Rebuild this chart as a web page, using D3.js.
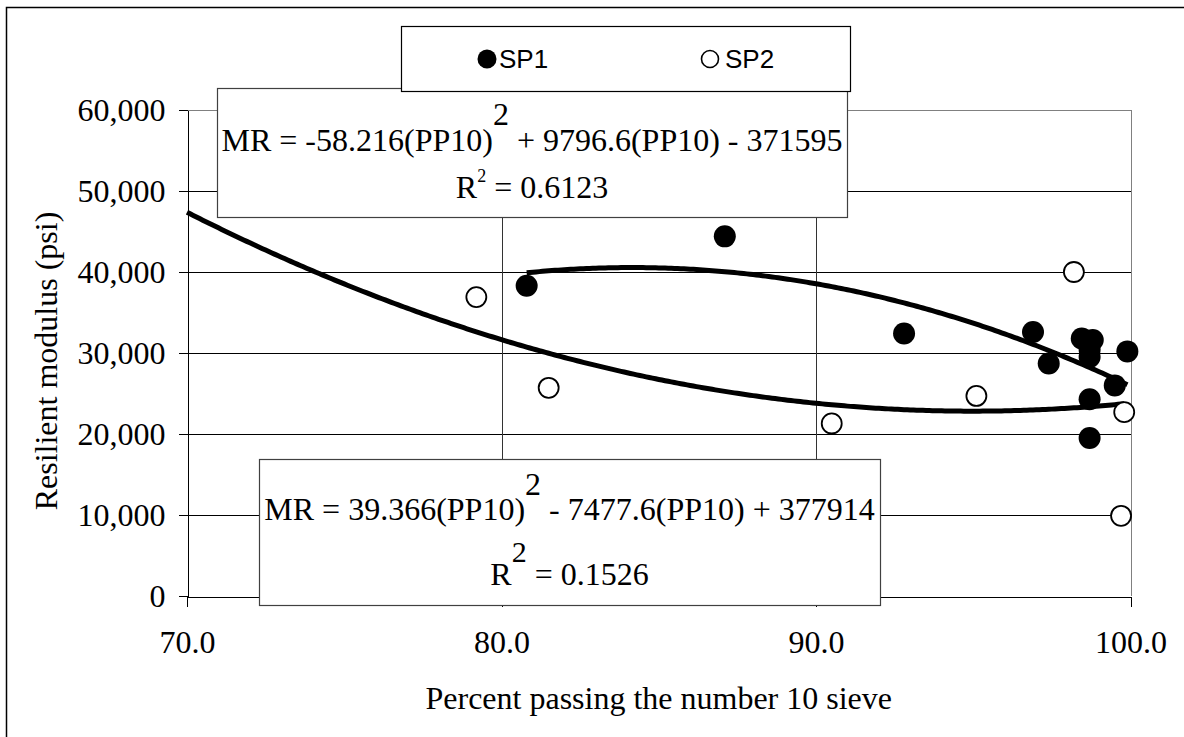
<!DOCTYPE html>
<html>
<head>
<meta charset="utf-8">
<script src="https://cdn.jsdelivr.net/npm/d3@7"></script>
<style>
  body { margin: 0; background: #fff; }
  svg { display: block; }
</style>
</head>
<body>
<div id="chart"></div>
<script>
// data
var sp1X = [80.8, 87.1, 92.8, 96.9, 97.4, 98.45, 98.8, 98.7, 98.7, 99.9, 99.5, 98.7, 98.7];
var sp1Y = [38300, 44400, 32400, 32600, 28700, 31800, 31600, 30400, 29500, 30200, 26000, 24300, 19500];
var sp2X = [79.2, 81.5, 90.5, 95.1, 98.2, 99.8, 99.7];
var sp2Y = [36900, 25700, 21300, 24700, 40000, 22700, 9900];

var xTicks = [70, 80, 90, 100];
var yTicks = [0, 10000, 20000, 30000, 40000, 50000, 60000];

// trendline coefficients (a, b, c) as printed in the boxes, and x extent drawn
var sp1Fit = [-58.216, 9796.6, -371595];
var sp1Range = [80.8, 99.9];
var sp2Fit = [39.366, -7477.6, 377914];
var sp2Range = [70, 99.8];

var svgWidth = 1184;
var svgHeight = 737;

var svg = d3.select("#chart")
  .append("svg")
  .attr("width", svgWidth)
  .attr("height", svgHeight);

var serif = "'Liberation Serif', 'Times New Roman', serif";
var sans = "'Liberation Sans', Arial, sans-serif";
var fontSize = 32;

// outer frame (cut off on the right and bottom)
svg.append("rect")
  .attr("x", 6.5).attr("y", 7.5)
  .attr("width", 1200).attr("height", 760)
  .attr("fill", "#fff")
  .attr("stroke", "#000")
  .attr("stroke-width", 1.5);

var x = d3.scaleLinear().domain([70, 100]).range([187, 1130.5]);
var y = d3.scaleLinear().domain([0, 60000]).range([596, 110]);

// gridlines
var grid = svg.append("g").attr("shape-rendering", "crispEdges");
grid.selectAll("line.h")
  .data(yTicks.filter(d => d > 0 && d < 60000))
  .enter().append("line")
  .attr("x1", x(70)).attr("x2", x(100))
  .attr("y1", d => Math.round(y(d)) + 0.5)
  .attr("y2", d => Math.round(y(d)) + 0.5)
  .attr("stroke", "#000");
grid.selectAll("line.v")
  .data(xTicks.filter(d => d > 70 && d < 100))
  .enter().append("line")
  .attr("x1", d => Math.round(x(d)) + 0.5)
  .attr("x2", d => Math.round(x(d)) + 0.5)
  .attr("y1", y(60000)).attr("y2", y(0))
  .attr("stroke", "#333");
// plot area border top / right
grid.append("path")
  .attr("d", `M${x(70)},${Math.round(y(60000)) + 0.5}H${Math.round(x(100)) + 0.5}V${y(0)}`)
  .attr("fill", "none")
  .attr("stroke", "#808080");

// axes
var leftAxis = d3.axisLeft(y)
  .tickValues(yTicks)
  .tickFormat(d3.format(","))
  .tickSize(9)
  .tickSizeOuter(0)
  .tickPadding(13);
var bottomAxis = d3.axisBottom(x)
  .tickValues(xTicks)
  .tickFormat(d3.format(".1f"))
  .tickSize(10)
  .tickSizeOuter(0)
  .tickPadding(24);

var yAxis = svg.append("g")
  .attr("transform", `translate(${Math.round(x(70)) + 0.5},0)`)
  .call(leftAxis);
var xAxis = svg.append("g")
  .attr("transform", `translate(0,${Math.round(y(0)) + 0.5})`)
  .call(bottomAxis);

[yAxis, xAxis].forEach(function(a) {
  a.attr("font-family", serif).attr("font-size", fontSize);
  a.selectAll("text").attr("fill", "#000");
  a.selectAll("line, path").attr("stroke", "#000").attr("shape-rendering", "crispEdges");
});
yAxis.selectAll("text").attr("dy", "0.34em");

// axis titles
svg.append("text")
  .attr("x", x(85))
  .attr("y", 709)
  .attr("text-anchor", "middle")
  .attr("font-family", serif)
  .attr("font-size", fontSize)
  .text("Percent passing the number 10 sieve");

svg.append("text")
  .attr("transform", "translate(57,361) rotate(-90)")
  .attr("text-anchor", "middle")
  .attr("font-family", serif)
  .attr("font-size", fontSize)
  .text("Resilient modulus (psi)");

// equation boxes
function eqBox(bx, by, bw, bh, a, sq, b, sqUp, rBase, rSup, rSize, rText, y1, y2) {
  var g = svg.append("g");
  g.append("rect")
    .attr("x", bx + 0.5).attr("y", by + 0.5)
    .attr("width", bw).attr("height", bh)
    .attr("fill", "#fff")
    .attr("stroke", "#404040")
    .attr("stroke-width", 1.2);
  var cx = bx + bw / 2;
  var t1 = g.append("text")
    .attr("x", cx).attr("y", y1)
    .attr("text-anchor", "middle")
    .attr("font-family", serif)
    .attr("font-size", fontSize);
  t1.append("tspan").text(a);
  t1.append("tspan").attr("dy", -sqUp).text(sq);
  t1.append("tspan").attr("dy", sqUp).text(b);
  var t2 = g.append("text")
    .attr("x", cx).attr("y", y2)
    .attr("text-anchor", "middle")
    .attr("font-family", serif)
    .attr("font-size", fontSize);
  t2.append("tspan").text(rBase);
  t2.append("tspan").attr("dy", -rSup).attr("font-size", rSize).text("2");
  t2.append("tspan").attr("dy", rSup).text(rText);
}

eqBox(217, 88, 630, 129,
  "MR = -58.216(PP10)", "2", " + 9796.6(PP10) - 371595", 26,
  "R", 16, 18, " = 0.6123", 151, 198);
eqBox(259, 459, 621, 146,
  "MR = 39.366(PP10)", "2", " - 7477.6(PP10) + 377914", 25,
  "R", 23, 30, " = 0.1526", 520, 585);

// trend lines
var line = d3.line().x(d => x(d[0])).y(d => y(d[1]));
function fitPoints(c, r) {
  return d3.range(r[0], r[1] + 0.001, 0.1).map(function(v) {
    return [v, c[0] * v * v + c[1] * v + c[2]];
  });
}
svg.append("path")
  .attr("d", line(fitPoints(sp2Fit, sp2Range)))
  .attr("fill", "none").attr("stroke", "#000").attr("stroke-width", 5);
svg.append("path")
  .attr("d", line(fitPoints(sp1Fit, sp1Range)))
  .attr("fill", "none").attr("stroke", "#000").attr("stroke-width", 5);

// markers
svg.append("g").selectAll("circle")
  .data(sp2X.map((d, i) => [d, sp2Y[i]]))
  .enter().append("circle")
  .attr("cx", d => x(d[0])).attr("cy", d => y(d[1]))
  .attr("r", 10)
  .attr("fill", "#fff").attr("stroke", "#000").attr("stroke-width", 1.8);
svg.append("g").selectAll("circle")
  .data(sp1X.map((d, i) => [d, sp1Y[i]]))
  .enter().append("circle")
  .attr("cx", d => x(d[0])).attr("cy", d => y(d[1]))
  .attr("r", 11)
  .attr("fill", "#000");

// legend
var legend = svg.append("g");
legend.append("rect")
  .attr("x", 401.5).attr("y", 26.5)
  .attr("width", 449).attr("height", 65)
  .attr("fill", "#fff").attr("stroke", "#000").attr("stroke-width", 1.2);
legend.append("circle").attr("cx", 487).attr("cy", 59).attr("r", 9.5).attr("fill", "#000");
legend.append("text").attr("x", 499).attr("y", 68)
  .attr("font-family", sans).attr("font-size", 26).text("SP1");
legend.append("circle").attr("cx", 710).attr("cy", 59).attr("r", 8.5)
  .attr("fill", "#fff").attr("stroke", "#000").attr("stroke-width", 1.6);
legend.append("text").attr("x", 725).attr("y", 68)
  .attr("font-family", sans).attr("font-size", 26).text("SP2");
</script>
</body>
</html>
